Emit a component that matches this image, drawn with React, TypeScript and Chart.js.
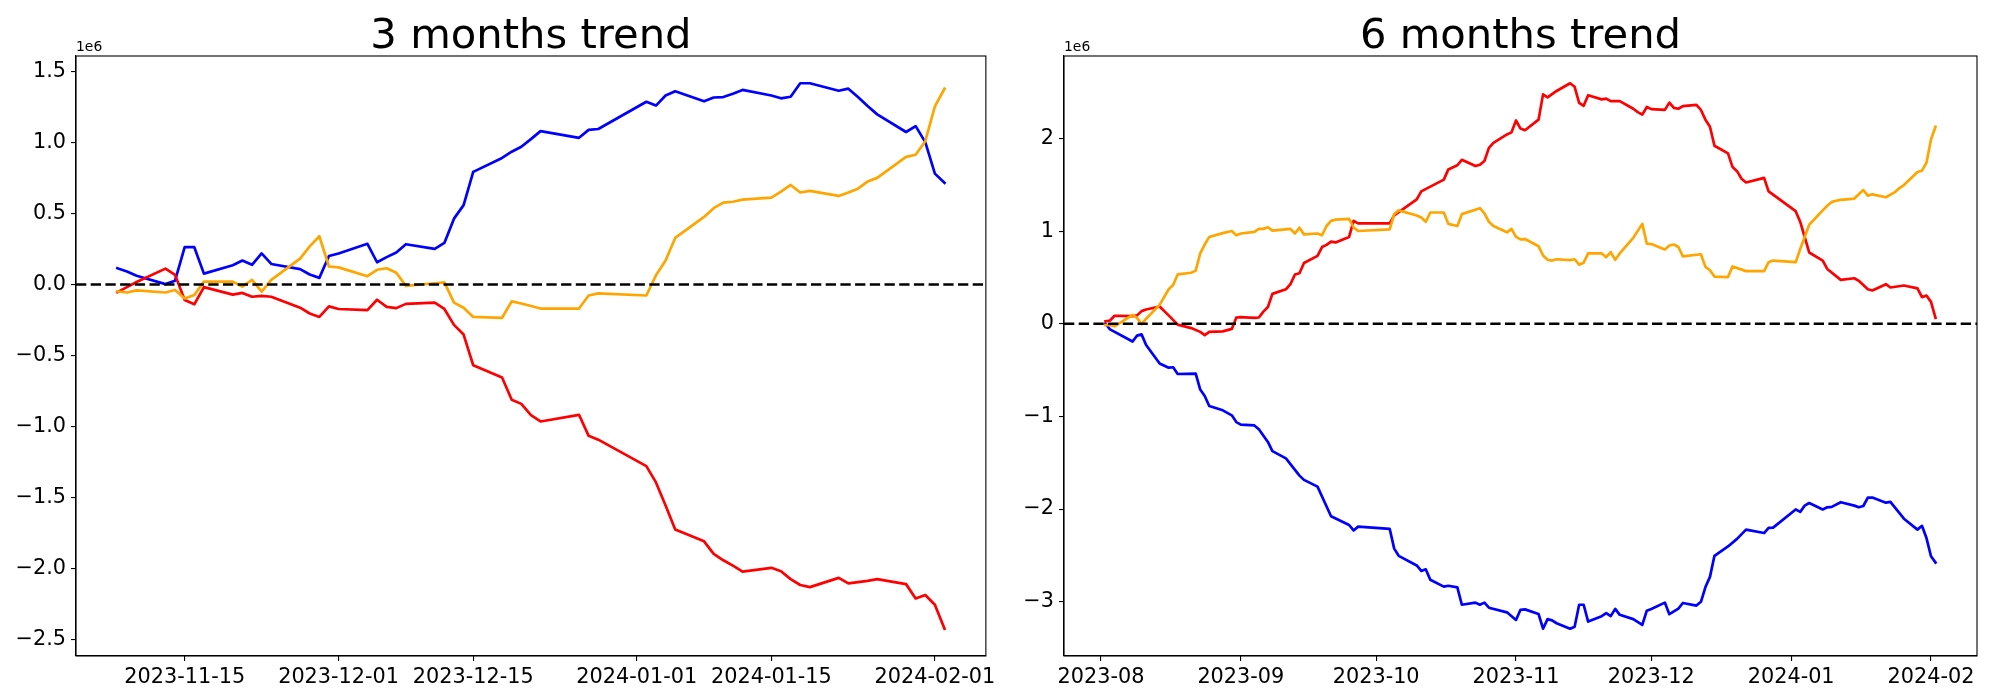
import React, { useEffect, useRef } from "react";
import { Chart, registerables } from "chart.js";

Chart.register(...registerables);

// ---------- 3 months trend (values in units of 1e6) ----------
const dates3m = [
  "2023-11-08","2023-11-09","2023-11-10","2023-11-13","2023-11-14","2023-11-15","2023-11-16","2023-11-17",
  "2023-11-20","2023-11-21","2023-11-22","2023-11-23","2023-11-24","2023-11-27","2023-11-28","2023-11-29",
  "2023-11-30","2023-12-01","2023-12-04","2023-12-05","2023-12-06","2023-12-07","2023-12-08","2023-12-11",
  "2023-12-12","2023-12-13","2023-12-14","2023-12-15","2023-12-18","2023-12-19","2023-12-20","2023-12-21",
  "2023-12-22","2023-12-26","2023-12-27","2023-12-28","2024-01-02","2024-01-03","2024-01-04","2024-01-05",
  "2024-01-08","2024-01-09","2024-01-10","2024-01-11","2024-01-12","2024-01-15","2024-01-16","2024-01-17",
  "2024-01-18","2024-01-19","2024-01-22","2024-01-23","2024-01-24","2024-01-25","2024-01-26","2024-01-29",
  "2024-01-30","2024-01-31","2024-02-01","2024-02-02",
];
const blue3m = [
  0.115,0.092,0.062,0.003,0.027,0.263,0.263,0.077,0.136,0.169,0.139,0.219,0.145,0.109,0.071,0.047,0.201,
  0.219,0.287,0.157,0.193,0.225,0.284,0.251,0.293,0.464,0.559,0.793,0.891,0.935,0.970,1.024,1.080,1.033,1.089,1.095,
  1.287,1.260,1.331,1.361,1.290,1.317,1.320,1.343,1.370,1.331,1.311,1.322,1.417,1.417,1.364,1.379,1.320,1.257,1.198,1.074,1.115,1.003,
  0.781,0.716,
];
const red3m = [
  -0.053,-0.018,0.018,0.112,0.068,-0.109,-0.139,-0.018,-0.071,-0.059,-0.086,-0.080,-0.086,-0.163,-0.204,-0.228,-0.154,
  -0.172,-0.180,-0.107,-0.157,-0.166,-0.136,-0.127,-0.172,-0.284,-0.352,-0.568,-0.654,-0.811,-0.840,-0.920,-0.964,-0.917,-1.065,-1.092,
  -1.278,-1.393,-1.556,-1.725,-1.808,-1.896,-1.941,-1.979,-2.021,-1.994,-2.018,-2.074,-2.115,-2.130,-2.065,-2.104,-2.095,-2.086,-2.074,-2.109,-2.210,-2.186,
  -2.254,-2.423,
];
const orange3m = [
  -0.047,-0.056,-0.041,-0.056,-0.038,-0.098,-0.074,0.021,0.021,-0.015,0.033,-0.050,0.033,0.183,0.269,0.340,0.127,
  0.121,0.059,0.104,0.115,0.083,-0.009,0.009,0.015,-0.127,-0.163,-0.228,-0.234,-0.118,-0.133,-0.151,-0.169,-0.169,-0.077,-0.062,
  -0.077,0.065,0.169,0.328,0.476,0.538,0.577,0.583,0.598,0.612,0.654,0.701,0.648,0.660,0.624,0.648,0.675,0.725,0.751,0.899,0.914,1.009,
  1.254,1.379,
];
const xTicks3m = ["2023-11-15","2023-12-01","2023-12-15","2024-01-01","2024-01-15","2024-02-01"];
const yTicks3m = [-2.5,-2.0,-1.5,-1.0,-0.5,0.0,0.5,1.0,1.5];

// ---------- 6 months trend (values in units of 1e6) ----------
const blue6mDates = [
  "2023-08-02","2023-08-03","2023-08-08","2023-08-09","2023-08-10","2023-08-11","2023-08-14","2023-08-16","2023-08-17","2023-08-18",
  "2023-08-22","2023-08-23","2023-08-24","2023-08-25","2023-08-28","2023-08-30","2023-08-31","2023-09-01","2023-09-04","2023-09-05",
  "2023-09-07","2023-09-08","2023-09-11","2023-09-14","2023-09-15","2023-09-18","2023-09-21","2023-09-25","2023-09-26","2023-09-27",
  "2023-10-04","2023-10-05","2023-10-06","2023-10-10","2023-10-11","2023-10-12","2023-10-13","2023-10-16","2023-10-17","2023-10-19",
  "2023-10-20","2023-10-23","2023-10-24","2023-10-25","2023-10-26","2023-10-30","2023-11-01","2023-11-02","2023-11-03","2023-11-06",
  "2023-11-07","2023-11-08","2023-11-09","2023-11-10","2023-11-13","2023-11-14","2023-11-15","2023-11-16","2023-11-17","2023-11-20",
  "2023-11-21","2023-11-22","2023-11-23","2023-11-24","2023-11-27","2023-11-29","2023-11-30","2023-12-01","2023-12-04","2023-12-05",
  "2023-12-07","2023-12-08","2023-12-11","2023-12-12","2023-12-13","2023-12-14","2023-12-15","2023-12-18","2023-12-20","2023-12-22",
  "2023-12-26","2023-12-27","2023-12-28","2024-01-02","2024-01-03","2024-01-04","2024-01-05","2024-01-08","2024-01-09","2024-01-10",
  "2024-01-12","2024-01-15","2024-01-16","2024-01-17","2024-01-18","2024-01-19","2024-01-22","2024-01-23","2024-01-26","2024-01-29",
  "2024-01-30","2024-01-31","2024-02-01","2024-02-02",
];
const blue6m = [
  0.0,-0.06,-0.191,-0.128,-0.114,-0.228,-0.428,-0.474,-0.469,-0.542,
  -0.537,-0.710,-0.779,-0.888,-0.934,-0.988,-1.061,-1.088,-1.097,-1.138,
  -1.275,-1.375,-1.453,-1.639,-1.685,-1.758,-2.077,-2.172,-2.231,-2.190,
  -2.213,-2.427,-2.505,-2.609,-2.668,-2.650,-2.764,-2.837,-2.828,-2.846,
  -3.033,-3.010,-3.033,-3.010,-3.065,-3.115,-3.197,-3.087,-3.083,-3.133,
  -3.292,-3.188,-3.202,-3.233,-3.292,-3.270,-3.033,-3.033,-3.215,-3.156,
  -3.124,-3.156,-3.078,-3.142,-3.188,-3.251,-3.097,-3.078,-3.010,-3.135,
  -3.074,-3.014,-3.042,-3.001,-2.842,-2.732,-2.505,-2.404,-2.322,-2.222,
  -2.259,-2.204,-2.200,-2.004,-2.031,-1.963,-1.935,-2.004,-1.981,-1.976,
  -1.926,-1.963,-1.981,-1.967,-1.876,-1.876,-1.931,-1.922,-2.104,-2.222,
  -2.181,-2.313,-2.509,-2.577,
];
const red6mDates = [
  "2023-08-02","2023-08-03","2023-08-04","2023-08-08","2023-08-09","2023-08-10","2023-08-11","2023-08-14","2023-08-16","2023-08-18",
  "2023-08-21","2023-08-23","2023-08-24","2023-08-25","2023-08-28","2023-08-30","2023-08-31","2023-09-01","2023-09-04","2023-09-05",
  "2023-09-06","2023-09-07","2023-09-08","2023-09-11","2023-09-12","2023-09-13","2023-09-14","2023-09-15","2023-09-18","2023-09-19",
  "2023-09-20","2023-09-21","2023-09-22","2023-09-25","2023-09-26","2023-09-27","2023-10-04","2023-10-05","2023-10-10","2023-10-11",
  "2023-10-16","2023-10-17","2023-10-19","2023-10-20","2023-10-23","2023-10-24","2023-10-25","2023-10-26","2023-10-27","2023-10-30",
  "2023-10-31","2023-11-01","2023-11-02","2023-11-03","2023-11-06","2023-11-07","2023-11-08","2023-11-10","2023-11-13","2023-11-14",
  "2023-11-15","2023-11-16","2023-11-17","2023-11-20","2023-11-21","2023-11-22","2023-11-24","2023-11-27","2023-11-28","2023-11-29",
  "2023-11-30","2023-12-01","2023-12-04","2023-12-05","2023-12-06","2023-12-07","2023-12-08","2023-12-11","2023-12-12","2023-12-13",
  "2023-12-14","2023-12-15","2023-12-18","2023-12-19","2023-12-20","2023-12-21","2023-12-22","2023-12-26","2023-12-27","2024-01-02",
  "2024-01-03","2024-01-05","2024-01-08","2024-01-09","2024-01-12","2024-01-15","2024-01-16","2024-01-18","2024-01-19","2024-01-22",
  "2024-01-23","2024-01-26","2024-01-29","2024-01-30","2024-01-31","2024-02-01","2024-02-02",
];
const red6m = [
  0.027,0.036,0.087,0.082,0.091,0.137,0.155,0.187,0.091,-0.009,
  -0.046,-0.087,-0.123,-0.087,-0.082,-0.055,0.068,0.073,0.064,0.068,
  0.132,0.182,0.323,0.373,0.428,0.533,0.546,0.656,0.733,0.829,
  0.852,0.888,0.879,0.938,1.111,1.084,1.084,1.170,1.343,1.430,
  1.557,1.667,1.712,1.771,1.703,1.717,1.758,1.899,1.954,2.045,
  2.067,2.195,2.108,2.090,2.204,2.477,2.445,2.514,2.597,2.559,
  2.386,2.354,2.468,2.423,2.432,2.404,2.404,2.322,2.286,2.259,
  2.341,2.318,2.310,2.388,2.332,2.322,2.350,2.363,2.309,2.204,
  2.127,1.922,1.840,1.694,1.648,1.566,1.526,1.576,1.430,1.216,
  1.102,0.770,0.683,0.592,0.474,0.492,0.464,0.373,0.360,0.428,
  0.392,0.414,0.383,0.287,0.305,0.237,0.064,
];
const orange6mDates = [
  "2023-08-02","2023-08-03","2023-08-04","2023-08-08","2023-08-09","2023-08-10","2023-08-11","2023-08-14","2023-08-16","2023-08-17",
  "2023-08-18","2023-08-21","2023-08-22","2023-08-23","2023-08-24","2023-08-25","2023-08-28","2023-08-30","2023-08-31","2023-09-01",
  "2023-09-04","2023-09-05","2023-09-06","2023-09-07","2023-09-08","2023-09-12","2023-09-13","2023-09-14","2023-09-15","2023-09-18",
  "2023-09-19","2023-09-20","2023-09-21","2023-09-22","2023-09-25","2023-09-26","2023-09-27","2023-10-04","2023-10-05","2023-10-06",
  "2023-10-10","2023-10-11","2023-10-12","2023-10-13","2023-10-16","2023-10-17","2023-10-19","2023-10-20","2023-10-24","2023-10-25",
  "2023-10-26","2023-10-27","2023-10-30","2023-10-31","2023-11-01","2023-11-02","2023-11-03","2023-11-06","2023-11-07","2023-11-08",
  "2023-11-09","2023-11-10","2023-11-13","2023-11-14","2023-11-15","2023-11-16","2023-11-17","2023-11-20","2023-11-21","2023-11-22",
  "2023-11-23","2023-11-24","2023-11-27","2023-11-29","2023-11-30","2023-12-01","2023-12-04","2023-12-05","2023-12-06","2023-12-07",
  "2023-12-08","2023-12-12","2023-12-13","2023-12-14","2023-12-15","2023-12-18","2023-12-19","2023-12-22","2023-12-26","2023-12-27",
  "2023-12-28","2024-01-02","2024-01-03","2024-01-05","2024-01-08","2024-01-09","2024-01-10","2024-01-12","2024-01-15","2024-01-17",
  "2024-01-18","2024-01-19","2024-01-22","2024-01-24","2024-01-25","2024-01-26","2024-01-29","2024-01-30","2024-01-31","2024-02-01",
  "2024-02-02",
];
const orange6m = [
  -0.014,-0.014,-0.027,0.096,0.064,-0.005,0.055,0.205,0.373,0.419,
  0.533,0.551,0.574,0.760,0.856,0.938,0.979,1.002,0.956,0.975,
  0.993,1.025,1.025,1.043,1.006,1.025,0.975,1.038,0.965,0.975,
  0.956,1.056,1.111,1.125,1.134,1.043,1.002,1.020,1.184,1.225,
  1.170,1.148,1.102,1.202,1.202,1.079,1.056,1.184,1.248,1.193,
  1.102,1.056,0.988,1.025,0.938,0.911,0.915,0.838,0.738,0.692,
  0.683,0.697,0.688,0.697,0.638,0.660,0.760,0.760,0.719,0.774,
  0.692,0.760,0.929,1.079,0.865,0.861,0.803,0.845,0.856,0.829,
  0.729,0.751,0.615,0.578,0.510,0.505,0.619,0.569,0.569,0.665,
  0.683,0.665,0.806,1.070,1.225,1.275,1.316,1.339,1.352,1.444,
  1.384,1.398,1.366,1.421,1.466,1.498,1.639,1.653,1.740,1.990,
  2.127,
];
const xTicks6m = ["2023-08-01","2023-09-01","2023-10-01","2023-11-01","2023-12-01","2024-01-01","2024-02-01"];
const yTicks6m = [-3,-2,-1,0,1,2];

// ---------- helpers ----------
const FONT = '"DejaVu Sans", "Liberation Sans", sans-serif';
const toDay = (s: string) =>
  Date.UTC(+s.slice(0, 4), +s.slice(5, 7) - 1, +s.slice(8, 10)) / 86400000;
const dayToIso = (d: number) => new Date(Math.round(d) * 86400000).toISOString().slice(0, 10);
const minus = (s: string) => s.replace("-", "\u2212");

type Series = { dates: string[]; values: number[]; color: string; order: number };

type Props = {
  title: string;
  series: Series[];
  xTicks: string[];
  xLabelLen: number;
  yTicks: number[];
  yDecimals: number;
  yAxisWidth: number;
  padRight: number;
  left: number;
};

function TrendChart(p: Props) {
  const ref = useRef<HTMLCanvasElement | null>(null);
  useEffect(() => {
    if (!ref.current) return;
    const allX: number[] = [];
    const allY: number[] = [];
    p.series.forEach((s) => {
      s.dates.forEach((d) => allX.push(toDay(d)));
      s.values.forEach((v) => allY.push(v));
    });
    const xMin = Math.min(...allX), xMax = Math.max(...allX);
    const yMin = Math.min(...allY), yMax = Math.max(...allY);
    const xm = (xMax - xMin) * 0.05, ym = (yMax - yMin) * 0.05;
    const xTickVals = p.xTicks.map(toDay);

    const decor = {
      id: "decor",
      afterDatasetsDraw(chart: any) {
        const { ctx, chartArea: a, scales } = chart;
        const y0 = scales.y.getPixelForValue(0);
        ctx.save();
        ctx.beginPath();
        ctx.rect(a.left, a.top, a.right - a.left, a.bottom - a.top);
        ctx.clip();
        ctx.strokeStyle = "#000";
        ctx.lineWidth = 2.6;
        ctx.setLineDash([10.3, 4.4]);
        ctx.lineCap = "butt";
        ctx.beginPath();
        ctx.moveTo(a.left, y0);
        ctx.lineTo(a.right, y0);
        ctx.stroke();
        ctx.restore();
      },
      afterDraw(chart: any) {
        const { ctx, chartArea: a } = chart;
        ctx.save();
        ctx.strokeStyle = "#000";
        ctx.lineWidth = 1.1;
        ctx.setLineDash([]);
        ctx.strokeRect(a.left, a.top, a.right - a.left, a.bottom - a.top);
        ctx.fillStyle = "#000";
        ctx.font = `41.7px ${FONT}`;
        ctx.textAlign = "center";
        ctx.textBaseline = "alphabetic";
        ctx.fillText(p.title, (a.left + a.right) / 2, a.top - 8.3);
        ctx.font = `13.9px ${FONT}`;
        ctx.textAlign = "left";
        ctx.fillText("1e6", a.left, a.top - 5);
        ctx.restore();
      },
    };

    const chart = new Chart(ref.current, {
      type: "line",
      data: {
        datasets: p.series.map((s) => ({
          data: s.dates.map((d, i) => ({ x: toDay(d), y: s.values[i] })),
          borderColor: s.color,
          backgroundColor: s.color,
          borderWidth: 2.7,
          pointRadius: 0,
          tension: 0,
          fill: false,
          borderJoinStyle: "round" as const,
          borderCapStyle: "square" as const,
          order: s.order,
        })),
      },
      options: {
        animation: false,
        responsive: false,
        devicePixelRatio: 1,
        events: [],
        layout: { padding: { left: 0, right: p.padRight, top: 56, bottom: 0 } },
        plugins: { legend: { display: false }, tooltip: { enabled: false }, title: { display: false } },
        scales: {
          x: {
            type: "linear",
            min: xMin - xm,
            max: xMax + xm,
            afterBuildTicks: (scale: any) => {
              scale.ticks = xTickVals.map((v) => ({ value: v }));
            },
            afterFit: (scale: any) => {
              scale.height = 44;
            },
            ticks: {
              autoSkip: false,
              maxRotation: 0,
              minRotation: 0,
              padding: 4,
              color: "#000",
              font: { family: FONT, size: 20.8 },
              callback: (v: any) => dayToIso(Number(v)).slice(0, p.xLabelLen),
            },
            grid: { display: true, drawOnChartArea: false, drawTicks: true, tickLength: 5, color: "#000", lineWidth: 1.1 },
            border: { display: true, color: "#000", width: 1.1 },
          },
          y: {
            type: "linear",
            min: yMin - ym,
            max: yMax + ym,
            afterBuildTicks: (scale: any) => {
              scale.ticks = p.yTicks.map((v) => ({ value: v }));
            },
            afterFit: (scale: any) => {
              scale.width = p.yAxisWidth;
            },
            ticks: {
              padding: 5,
              color: "#000",
              font: { family: FONT, size: 20.8 },
              callback: (v: any) => minus(Number(v).toFixed(p.yDecimals)),
            },
            grid: { display: true, drawOnChartArea: false, drawTicks: true, tickLength: 5, color: "#000", lineWidth: 1.1 },
            border: { display: true, color: "#000", width: 1.1 },
          },
        },
      },
      plugins: [decor],
    } as any);
    return () => chart.destroy();
  }, []);
  return (
    <canvas
      ref={ref}
      width={1000}
      height={700}
      style={{ position: "absolute", left: p.left, top: 0, width: 1000, height: 700 }}
    />
  );
}

export default function App() {
  const s3: Series[] = [
    { dates: dates3m, values: blue3m, color: "#0000ff", order: 3 },
    { dates: dates3m, values: red3m, color: "#ff0000", order: 2 },
    { dates: dates3m, values: orange3m, color: "#ffa500", order: 1 },
  ];
  const s6: Series[] = [
    { dates: blue6mDates, values: blue6m, color: "#0000ff", order: 3 },
    { dates: red6mDates, values: red6m, color: "#ff0000", order: 2 },
    { dates: orange6mDates, values: orange6m, color: "#ffa500", order: 1 },
  ];
  return (
    <div style={{ position: "absolute", left: 0, top: 0, width: 2000, height: 700, background: "#fff" }}>
      <TrendChart
        title="3 months trend"
        series={s3}
        xTicks={xTicks3m}
        xLabelLen={10}
        yTicks={yTicks3m}
        yDecimals={1}
        yAxisWidth={76}
        padRight={12}
        left={0}
      />
      <TrendChart
        title="6 months trend"
        series={s6}
        xTicks={xTicks6m}
        xLabelLen={7}
        yTicks={yTicks6m}
        yDecimals={0}
        yAxisWidth={64}
        padRight={23}
        left={1000}
      />
    </div>
  );
}
